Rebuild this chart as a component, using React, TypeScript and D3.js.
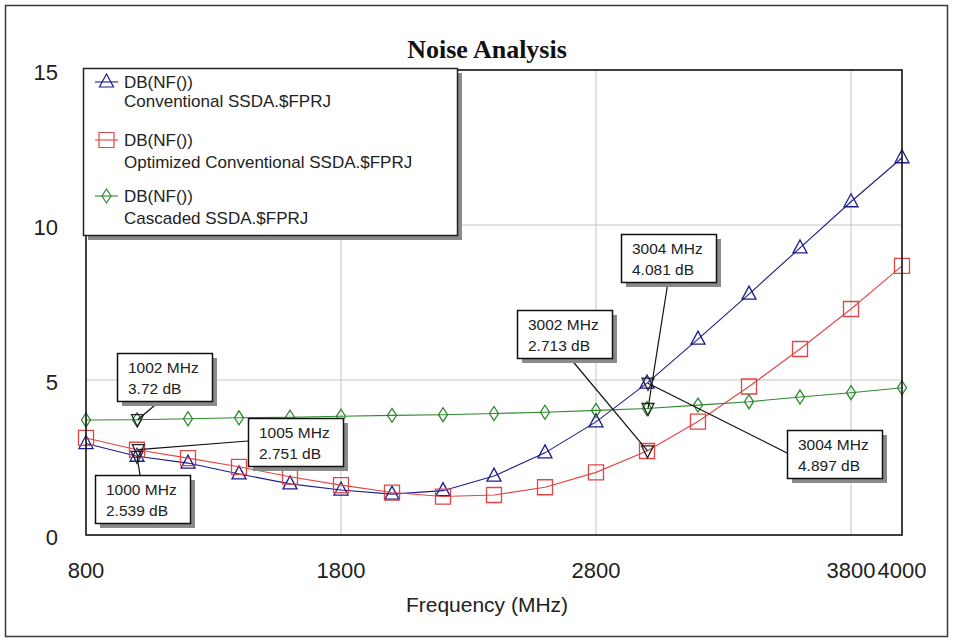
import React from "react";
import * as d3 from "d3";

const frequencies = [800, 1000, 1200, 1400, 1600, 1800, 2000, 2200, 2400, 2600, 2800, 3000, 3200, 3400, 3600, 3800, 4000];
const conventional = [2.95, 2.54, 2.32, 1.97, 1.65, 1.45, 1.32, 1.43, 1.9, 2.65, 3.65, 4.9, 6.32, 7.77, 9.26, 10.75, 12.17];
const optimized = [3.13, 2.75, 2.48, 2.2, 1.88, 1.61, 1.37, 1.24, 1.29, 1.54, 2.02, 2.71, 3.66, 4.79, 6.0, 7.29, 8.68];
const cascaded = [3.71, 3.72, 3.75, 3.78, 3.8, 3.83, 3.86, 3.88, 3.92, 3.96, 4.02, 4.08, 4.19, 4.3, 4.45, 4.59, 4.75];

const seriesNames = ["Conventional SSDA.$FPRJ", "Optimized Conventional SSDA.$FPRJ", "Cascaded SSDA.$FPRJ"];
const measureName = "DB(NF())";

const xTicks = [800, 1800, 2800, 3800, 4000];
const yTicks = [0, 5, 10, 15];
const xGrid = [1800, 2800, 3800];
const yGrid = [5, 10];

const markerFreqs = [1002, 1005, 1000, 3004, 3002, 3004];
const markerValues = [3.72, 2.751, 2.539, 4.081, 2.713, 4.897];

// label box layout: [x, y, leader start x, leader start y]
const markerBoxes = [
  [117, 353, 160, 401],
  [248, 418, 248, 441],
  [95, 475, 140, 475],
  [621, 234, 668, 282],
  [517, 310, 570, 358],
  [787, 430, 787, 453],
];

const colors = ["#1c1c8c", "#e04646", "#2e8a2e"];

const x = d3.scaleLinear().domain([800, 4000]).range([86, 902]);
const y = d3.scaleLinear().domain([0, 15]).range([535, 70]);

function markerPath(kind: number, cx: number, cy: number): string {
  if (kind === 0) {
    return `M${cx},${cy - 8} L${cx + 7},${cy + 5} L${cx - 7},${cy + 5} Z`;
  }
  if (kind === 1) {
    return `M${cx - 7.5},${cy - 7.5} h15 v15 h-15 Z`;
  }
  return `M${cx},${cy - 7} L${cx + 4.5},${cy} L${cx},${cy + 7} L${cx - 4.5},${cy} Z`;
}

export default function App() {
  const allSeries = [conventional, optimized, cascaded];
  const line = d3
    .line<number>()
    .x((_, i) => x(frequencies[i]))
    .y((d) => y(d));

  const legendLine1 = [82, 140, 196];
  const legendLine2 = [101, 162, 218];

  return (
    <svg
      width={955}
      height={640}
      style={{ position: "absolute", left: 0, top: 0, background: "#fff" }}
      fontFamily="'Liberation Sans', Arial, sans-serif"
    >
      <rect x={0} y={0} width={955} height={640} fill="#fff" />
      <rect x={5.5} y={5.5} width={942} height={631} fill="none" stroke="#3a3a3a" strokeWidth={1.5} />

      <text x={487} y={58} textAnchor="middle" fontFamily="'Liberation Serif', 'Times New Roman', serif" fontWeight="bold" fontSize={26} fill="#111">
        Noise Analysis
      </text>

      {/* grid */}
      {xGrid.map((v) => (
        <line key={"gx" + v} x1={x(v)} x2={x(v)} y1={y(15)} y2={y(0)} stroke="#c4c4c4" strokeWidth={1} />
      ))}
      {yGrid.map((v) => (
        <line key={"gy" + v} x1={x(800)} x2={x(4000)} y1={y(v)} y2={y(v)} stroke="#c4c4c4" strokeWidth={1} />
      ))}

      {/* series */}
      {allSeries.map((s, si) => (
        <g key={"s" + si}>
          <path d={line(s) || ""} fill="none" stroke={colors[si]} strokeWidth={1.1} />
          {s.map((v, i) => (
            <path key={i} d={markerPath(si, x(frequencies[i]), y(v))} fill="none" stroke={colors[si]} strokeWidth={1.3} />
          ))}
        </g>
      ))}

      {/* plot border */}
      <rect x={x(800)} y={y(15)} width={x(4000) - x(800)} height={y(0) - y(15)} fill="none" stroke="#111" strokeWidth={1.6} />

      {/* ticks */}
      {yTicks.map((v) => (
        <text key={"yt" + v} x={58} y={y(v) + 10} textAnchor="end" fontSize={22} fill="#222">
          {v}
        </text>
      ))}
      {xTicks.map((v) => (
        <text key={"xt" + v} x={x(v)} y={578} textAnchor="middle" fontSize={22} fill="#222">
          {v}
        </text>
      ))}
      <text x={487} y={612} textAnchor="middle" fontSize={21} fill="#222">
        Frequency (MHz)
      </text>

      {/* legend */}
      <rect x={88} y={73} width={374} height={167} fill="#8a8a8a" />
      <rect x={83.5} y={68.5} width={374} height={167} fill="#fff" stroke="#222" strokeWidth={1.5} />
      {seriesNames.map((name, i) => (
        <g key={"lg" + i}>
          <line x1={95} x2={118} y1={legendLine1[i]} y2={legendLine1[i]} stroke={colors[i]} strokeWidth={1.1} />
          <path d={markerPath(i, 106.5, legendLine1[i])} fill="none" stroke={colors[i]} strokeWidth={1.2} />
          <text x={124} y={legendLine1[i] + 6} fontSize={17} fill="#222">
            {measureName}
          </text>
          <text x={124} y={legendLine2[i] + 6} fontSize={17} fill="#222">
            {name}
          </text>
        </g>
      ))}

      {/* markers and labels */}
      {markerFreqs.map((f, i) => {
        const mx = x(f);
        const my = y(markerValues[i]);
        const [bx, by, lx, ly] = markerBoxes[i];
        return (
          <g key={"m" + i}>
            <line x1={lx} y1={ly} x2={mx} y2={my} stroke="#111" strokeWidth={1.2} />
            <path d={`M${mx - 6},${my - 5} L${mx + 6},${my - 5} L${mx},${my + 7} Z`} fill="none" stroke="#222" strokeWidth={1.3} />
            <rect x={bx + 5} y={by + 5} width={95} height={48} fill="#8a8a8a" />
            <rect x={bx + 0.5} y={by + 0.5} width={95} height={48} fill="#fff" stroke="#111" strokeWidth={1.5} />
            <text x={bx + 11} y={by + 20} fontSize={15.5} fill="#222">
              {f} MHz
            </text>
            <text x={bx + 11} y={by + 41} fontSize={15.5} fill="#222">
              {markerValues[i]} dB
            </text>
          </g>
        );
      })}
    </svg>
  );
}
